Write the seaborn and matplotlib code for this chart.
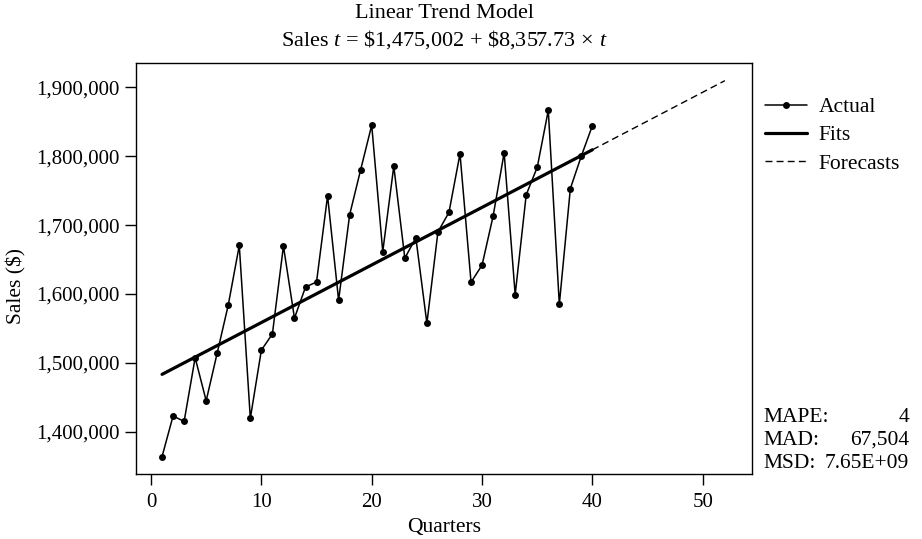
import numpy as np
import pandas as pd
import matplotlib
matplotlib.use("Agg")
import matplotlib.pyplot as plt
import seaborn as sns

# ---- data ----
quarters = list(range(1, 41))
sales = [1364000, 1423000, 1415000, 1507500, 1445000, 1514500, 1584000, 1670500,
         1419500, 1518500, 1542000, 1669500, 1565000, 1610000, 1617500, 1742500,
         1591000, 1715000, 1780500, 1845000, 1661500, 1785500, 1652000, 1681500,
         1557500, 1690000, 1718500, 1803500, 1617000, 1642000, 1713000, 1805000,
         1599000, 1744000, 1784000, 1866500, 1585000, 1753000, 1800500, 1844500]
intercept = 1475002.0
slope = 8357.73
forecast_quarters = list(range(40, 53))
xtick_vals = [0, 10, 20, 30, 40, 50]
ytick_vals = [1400000, 1500000, 1600000, 1700000, 1800000, 1900000]
stats_labels = ["MAPE:", "MAD:", "MSD:"]
stats_values = ["4", "67,504", "7.65E+09"]

sns.set_style("ticks")
plt.rcParams["font.family"] = ["Liberation Serif", "DejaVu Serif"]
plt.rcParams["mathtext.fontset"] = "custom"
plt.rcParams["mathtext.rm"] = "Liberation Serif"
plt.rcParams["mathtext.it"] = "Liberation Serif:italic"
plt.rcParams["text.color"] = "black"
plt.rcParams["axes.labelcolor"] = "black"
plt.rcParams["xtick.color"] = "black"
plt.rcParams["ytick.color"] = "black"

df = pd.DataFrame({"t": quarters, "sales": sales})
df["fit"] = intercept + slope * df["t"]
fdf = pd.DataFrame({"t": forecast_quarters})
fdf["fc"] = intercept + slope * fdf["t"]

fig = plt.figure(figsize=(9.22, 5.39), dpi=100)
ax = fig.add_axes([136/922, 1-474/539, (752-136)/922, (474-63)/539])

sns.lineplot(data=fdf, x="t", y="fc", ax=ax, color="black", lw=1.0,
             dashes=False, label="Forecasts")
ax.lines[-1].set_dashes((5, 3))
sns.lineplot(data=df, x="t", y="sales", ax=ax, color="black", lw=1.1,
             marker="o", markersize=5, markeredgewidth=0, label="Actual")
sns.lineplot(data=df, x="t", y="fit", ax=ax, color="black", lw=2.3,
             label="Fits")

ax.set_xlim(-1.36, 54.46)
ax.set_ylim(1338750, 1935270)
ax.set_xticks(xtick_vals)
ax.set_yticks(ytick_vals)
ax.set_yticklabels([f"{v:,}" for v in ytick_vals])
for s in ax.spines.values():
    s.set_visible(True)
    s.set_linewidth(1.0)
    s.set_color("black")
ax.tick_params(axis="both", length=8, width=1.0, color="black", labelsize=15, labelcolor="black")
ax.tick_params(axis="y", pad=3.5)
ax.tick_params(axis="x", pad=5.5)

ax.set_xlabel("Quarters", fontsize=15.5)
ax.set_ylabel("Sales ($)", fontsize=15.5)
ax.xaxis.set_label_coords(0.5, -0.108)
ax.yaxis.set_label_coords(-0.178, 0.457)

fig.text(444/922, 1-13/539, "Linear Trend Model", ha="center", va="center", fontsize=16)
fig.text(444/922, 1-40/539, r"Sales $t$ = \$1,475,002 + \$8,357.73$\,\times\,t$",
         ha="center", va="center", fontsize=16)

handles, labels = ax.get_legend_handles_labels()
order = [labels.index(n) for n in ["Actual", "Fits", "Forecasts"]]
leg = ax.legend([handles[i] for i in order], [labels[i] for i in order],
                loc="upper left", bbox_to_anchor=(765/922, 1-97/539),
                bbox_transform=fig.transFigure, frameon=False, fontsize=15.5,
                handlelength=1.95, handletextpad=0.55, labelspacing=0.38,
                borderaxespad=0, borderpad=0)

for i, (lab, val) in enumerate(zip(stats_labels, stats_values)):
    y = 1 - (418 + 22.5*i)/539
    fig.text(763/922, y, lab, ha="left", va="center", fontsize=15.5)
    fig.text(909/922, y, val, ha="right", va="center", fontsize=15.5)

fig.savefig("out.png", dpi=100)
